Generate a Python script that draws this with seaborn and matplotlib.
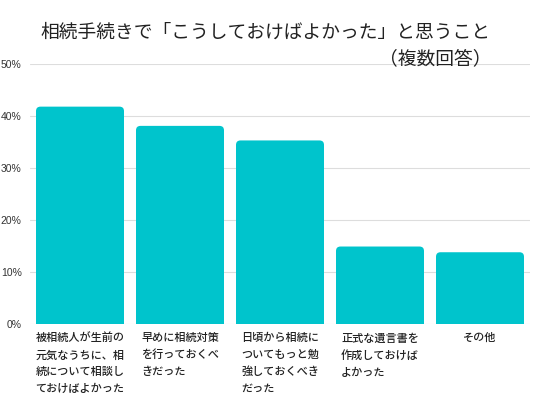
import numpy as np
import pandas as pd
import matplotlib.pyplot as plt
from matplotlib.patches import FancyBboxPatch
import seaborn as sns

categories = [
    "被相続人が生前の\n元気なうちに、相\n続について相談し\nておけばよかった",
    "早めに相続対策\nを行っておくべ\nきだった",
    "日頃から相続に\nついてもっと勉\n強しておくべき\nだった",
    "正式な遺言書を\n作成しておけば\nよかった",
    "その他",
]
values = [41.8, 38.1, 35.3, 14.9, 13.8]
yticks = [0, 10, 20, 30, 40, 50]

sns.set_theme(style="white")
plt.rcParams["font.family"] = ["Noto Sans CJK JP", "DejaVu Sans"]

df = pd.DataFrame({"item": range(len(values)), "pct": values})

fig = plt.figure(figsize=(5.33, 4.0), dpi=100)
ax = fig.add_axes([30 / 533, 1 - 324 / 400, 500 / 533, 260 / 400])
sns.barplot(data=df, x="item", y="pct", color="#00C4CC", saturation=1,
            width=0.88, ax=ax, zorder=3)
ax.set_ylim(0, 50)
ax.set_xlim(-0.5, len(values) - 0.5)

# rounded tops
for p in list(ax.patches):
    x, w, h = p.get_x(), p.get_width(), p.get_height()
    fc = p.get_facecolor()
    p.remove()
    ax.add_patch(FancyBboxPatch((x, -3), w, h + 3,
                                boxstyle="round,pad=0,rounding_size=0.045",
                                mutation_aspect=19.2, fc=fc, ec="none", zorder=3))

ax.set_yticks(yticks)
ax.set_yticklabels([f"{t}%" for t in yticks], fontsize=7.5, color="#333333",
                   family=["Liberation Sans", "DejaVu Sans"])
ax.tick_params(axis="y", length=0, pad=6)
ax.tick_params(axis="x", length=0)
ax.set_xticks([])
ax.set_xlabel("")
ax.set_ylabel("")
for t in yticks:
    ax.axhline(t, color="#dddddd", lw=0.8, zorder=1)
for s in ax.spines.values():
    s.set_visible(False)

for i, lab in enumerate(categories):
    ax.text(i, -0.035, lab, transform=ax.get_xaxis_transform(), ha="center",
            va="top", multialignment="left", fontsize=8, color="#222222",
            fontweight="medium", linespacing=1.75)

fig.text(265 / 533, 1 - 32 / 400, "相続手続きで「こうしておけばよかった」と思うこと",
         ha="center", va="center", fontsize=13.5, color="#222222")
fig.text(492 / 533, 1 - 59 / 400, "（複数回答）", ha="right", va="center",
         fontsize=13.5, color="#222222")

fig.savefig("out.png", dpi=100, facecolor="white")
